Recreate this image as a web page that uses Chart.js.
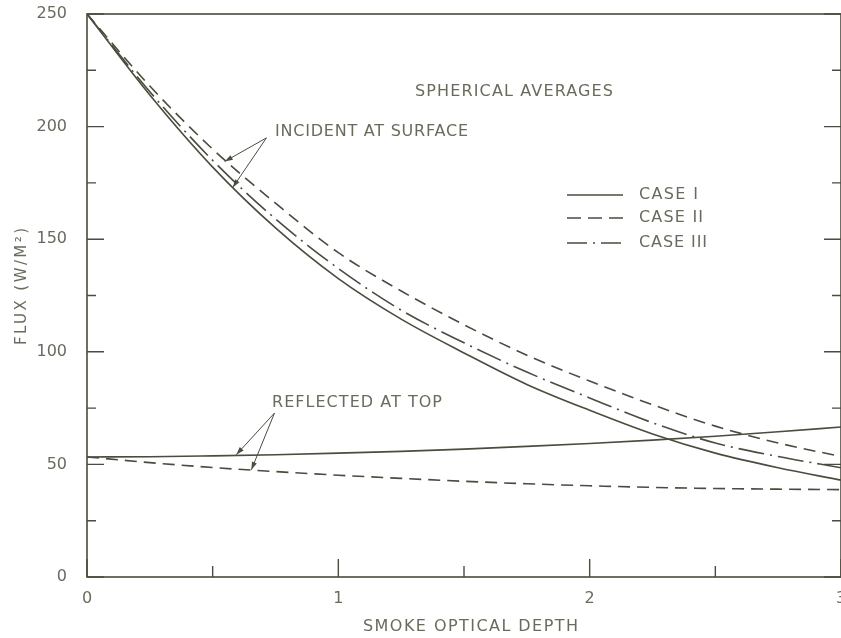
<!DOCTYPE html>
<html>
<head>
<meta charset="utf-8">
<script src="https://cdn.jsdelivr.net/npm/chart.js@4/dist/chart.umd.min.js"></script>
<style>
  html, body { margin: 0; padding: 0; background: #ffffff; overflow: hidden; }
  #wrap { position: relative; width: 841px; height: 638px; overflow: hidden; }
</style>
</head>
<body>
<div id="wrap"><canvas id="c" width="841" height="638"></canvas></div>
<script>
// Smoke optical depth (x) and flux in W/m² (y)
const depth = [0, 0.25, 0.5, 0.75, 1, 1.25, 1.5, 1.75, 2, 2.25, 2.5, 2.75, 3];

const incidentCaseI   = [250, 214, 182, 155, 132.5, 114.5, 99.5, 85.5, 74, 63.5, 55, 48.5, 43];
const incidentCaseII  = [250, 218, 190, 166, 144, 127, 112, 98.5, 87, 76.5, 67, 59.5, 53.5];
const incidentCaseIII = [250, 215.5, 185, 159, 137, 118.5, 104, 91, 79.5, 68.5, 59.5, 53.5, 48.5];

const reflectedCaseI  = [53.3, 53.4, 53.8, 54.3, 55, 55.8, 56.8, 58, 59.3, 60.8, 62.5, 64.5, 66.6];
const reflectedCaseII = [53.3, 50.8, 48.6, 46.8, 45.2, 43.8, 42.5, 41.4, 40.5, 39.8, 39.3, 39, 38.8];

const xTickLabels = [0, 1, 2, 3];
const yTickLabels = [0, 50, 100, 150, 200, 250];

const legendLabels = ['CASE I', 'CASE II', 'CASE III'];

// Callout arrows: [origin, tip] in data units (depth, flux)
const incidentArrows  = [[[0.714, 195], [0.548, 184.5]], [[0.714, 195], [0.58, 173]]];
const reflectedArrows = [[[0.746, 72.8], [0.594, 54.3]], [[0.746, 72.8], [0.654, 47.6]]];

const INK = '#4a4c3e';
const TEXT = '#6a6b5c';
const FONT = '"DejaVu Sans", sans-serif';
const DASH = [12, 7];
const DASHDOT = [26, 6, 2, 6];

const pts = arr => depth.map((x, i) => ({ x, y: arr[i] }));

function series(label, values, dash) {
  return {
    label, data: pts(values), borderColor: INK, borderWidth: 1.6,
    borderDash: dash, pointRadius: 0, fill: false,
    cubicInterpolationMode: 'monotone', tension: 0.4
  };
}

function fitText(ctx, text, left, right, y, size) {
  ctx.font = size + 'px ' + FONT;
  ctx.letterSpacing = '0px';
  const w = ctx.measureText(text).width;
  const n = [...text].length;
  const sp = (right - left - w) / Math.max(n - 1, 1);
  ctx.letterSpacing = sp + 'px';
  ctx.textAlign = 'left';
  ctx.textBaseline = 'middle';
  ctx.fillText(text, left, y);
  ctx.letterSpacing = '0px';
}

function arrow(ctx, x0, y0, x1, y1) {
  ctx.beginPath();
  ctx.moveTo(x0, y0);
  ctx.lineTo(x1, y1);
  ctx.stroke();
  const a = Math.atan2(y1 - y0, x1 - x0);
  const L = 8, W = 2.6;
  ctx.beginPath();
  ctx.moveTo(x1, y1);
  ctx.lineTo(x1 - L * Math.cos(a) + W * Math.sin(a), y1 - L * Math.sin(a) - W * Math.cos(a));
  ctx.lineTo(x1 - L * Math.cos(a) - W * Math.sin(a), y1 - L * Math.sin(a) + W * Math.cos(a));
  ctx.closePath();
  ctx.fill();
}

const decorations = {
  id: 'decorations',
  afterDraw(chart) {
    const { ctx, chartArea: a, scales: { x, y } } = chart;
    ctx.save();
    ctx.strokeStyle = INK;
    ctx.fillStyle = INK;
    ctx.lineWidth = 1.6;
    ctx.setLineDash([]);

    // frame
    ctx.strokeRect(a.left, a.top, a.right - a.left, a.bottom - a.top);

    // inward tick marks
    ctx.lineWidth = 1.4;
    x.ticks.forEach(t => {
      const px = x.getPixelForValue(t.value);
      const len = Number.isInteger(t.value) ? 18 : 11;
      ctx.beginPath();
      ctx.moveTo(px, a.bottom);
      ctx.lineTo(px, a.bottom - len);
      ctx.stroke();
    });
    y.ticks.forEach(t => {
      const py = y.getPixelForValue(t.value);
      const len = t.value % 50 === 0 ? 17 : 9;
      ctx.beginPath();
      ctx.moveTo(a.left, py);
      ctx.lineTo(a.left + len, py);
      ctx.moveTo(a.right, py);
      ctx.lineTo(a.right - len, py);
      ctx.stroke();
    });

    // callout arrows
    ctx.lineWidth = 1;
    [...incidentArrows, ...reflectedArrows].forEach(([o, t]) => {
      arrow(ctx, x.getPixelForValue(o[0]), y.getPixelForValue(o[1]),
                 x.getPixelForValue(t[0]), y.getPixelForValue(t[1]));
    });

    // legend samples
    ctx.lineWidth = 1.6;
    const dashes = [[], [14, 7], [20, 6, 2, 6]];
    const rows = [195, 218, 243];
    rows.forEach((ry, i) => {
      ctx.setLineDash(dashes[i]);
      ctx.beginPath();
      ctx.moveTo(567, ry);
      ctx.lineTo(623, ry);
      ctx.stroke();
    });
    ctx.setLineDash([]);

    // text
    ctx.fillStyle = TEXT;
    fitText(ctx, 'SPHERICAL AVERAGES', 415, 613, 92, 16);
    fitText(ctx, 'INCIDENT AT SURFACE', 275, 468, 132, 16);
    fitText(ctx, 'REFLECTED AT TOP', 272, 442, 403, 16);
    fitText(ctx, legendLabels[0], 639, 698, 195, 16);
    fitText(ctx, legendLabels[1], 639, 703, 218, 16);
    fitText(ctx, legendLabels[2], 639, 707, 243, 16);
    fitText(ctx, 'SMOKE OPTICAL DEPTH', 363, 578, 627, 16);

    ctx.save();
    ctx.translate(22, 345);
    ctx.rotate(-Math.PI / 2);
    fitText(ctx, 'FLUX (W/M²)', 0, 117, 0, 15);
    ctx.restore();

    ctx.restore();
  }
};

new Chart(document.getElementById('c'), {
  type: 'line',
  data: {
    datasets: [
      series('Incident, case I', incidentCaseI, []),
      series('Incident, case II', incidentCaseII, DASH),
      series('Incident, case III', incidentCaseIII, DASHDOT),
      series('Reflected, case I', reflectedCaseI, []),
      series('Reflected, case II', reflectedCaseII, DASH)
    ]
  },
  options: {
    responsive: false,
    devicePixelRatio: 1,
    animation: false,
    // the plot area runs slightly past the right edge of the canvas
    layout: { padding: { left: 0, top: 14, right: -2, bottom: 0 } },
    plugins: { legend: { display: false }, tooltip: { enabled: false } },
    scales: {
      x: {
        type: 'linear', min: 0, max: 3,
        grid: { display: false }, border: { display: false },
        ticks: {
          stepSize: 0.5, autoSkip: false, maxRotation: 0, padding: 4,
          color: TEXT, font: { family: FONT, size: 16 },
          callback: v => xTickLabels.includes(v) ? String(v) : ''
        },
        afterFit: s => { s.height = 61; s.paddingRight = -2; s.paddingLeft = 0; }
      },
      y: {
        type: 'linear', min: 0, max: 250,
        grid: { display: false }, border: { display: false },
        ticks: {
          stepSize: 25, autoSkip: false, padding: 12,
          color: TEXT, font: { family: FONT, size: 16 },
          callback: v => yTickLabels.includes(v) ? String(v) : ''
        },
        afterFit: s => { s.width = 87; s.paddingRight = -2; s.paddingTop = 0; s.paddingBottom = 0; }
      }
    }
  },
  plugins: [decorations]
});
</script>
</body>
</html>
